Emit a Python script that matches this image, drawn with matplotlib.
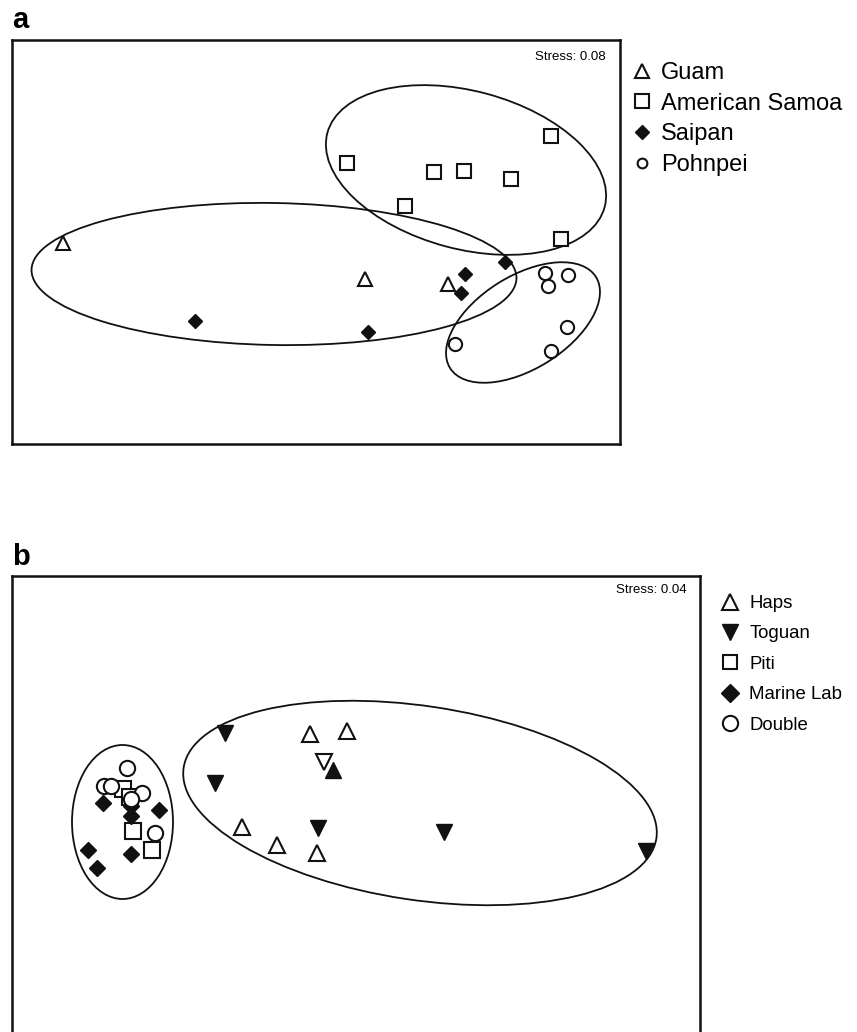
"""nMDS ordination plots of reef sites (panel a: islands, panel b: Guam sites)."""

import matplotlib
matplotlib.use("Agg")
import matplotlib.pyplot as plt
from matplotlib.lines import Line2D
from matplotlib.patches import Ellipse

plt.rcParams["font.family"] = ["Liberation Sans", "DejaVu Sans"]

# ---- panel a: islands ----
guam_x = [-1.265, 0.245, 0.66]
guam_y = [0.0, -0.18, -0.205]
samoa_x = [0.155, 1.175, 0.59, 0.74, 0.975, 0.445, 1.225]
samoa_y = [0.40, 0.535, 0.355, 0.36, 0.32, 0.185, 0.02]
saipan_x = [-0.605, 0.26, 0.745, 0.725, 0.945]
saipan_y = [-0.39, -0.445, -0.155, -0.25, -0.095]
pohnpei_x = [1.145, 1.26, 1.16, 1.255, 1.175, 0.695]
pohnpei_y = [-0.15, -0.16, -0.215, -0.42, -0.54, -0.505]
# cluster ellipses: (cx, cy, width, height, angle)
ellipses_a = [
    (-0.21, -0.155, 2.425, 0.71, -1.0),
    (0.75, 0.365, 1.435, 0.79, -15.0),
    (1.035, -0.3975, 0.86, 0.465, 32.0),
]
stress_a = "Stress: 0.08"

# ---- panel b: Guam sites ----
haps_x = [-0.23, -0.045, -0.57, -0.395, -0.195]
haps_y = [0.345, 0.36, -0.12, -0.21, -0.25]
toguan_x = [-0.655, -0.705, -0.19, 0.44, 1.45]
toguan_y = [0.35, 0.10, -0.125, -0.145, -0.24]
toguan_open_x = [-0.16]
toguan_open_y = [0.205]
haps_filled_x = [-0.115]
haps_filled_y = [0.165]
piti_x = [-1.165, -1.115, -1.02, -1.13]
piti_y = [0.07, -0.14, -0.235, 0.03]
marine_x = [-1.265, -0.985, -1.125, -1.125, -1.34, -1.295, -1.125]
marine_y = [0.0, -0.035, -0.015, -0.065, -0.235, -0.325, -0.255]
double_x = [-1.145, -1.26, -1.225, -1.07, -1.125, -1.005]
double_y = [0.175, 0.085, 0.085, 0.05, 0.02, -0.15]
ellipses_b = [
    (-1.1675, -0.095, 0.505, 0.77, 0.0),
    (0.32, 0.0, 2.39, 0.97, -8.5),
]
stress_b = "Stress: 0.04"

W, H = 857, 1032
fig = plt.figure(figsize=(W / 100, H / 100), dpi=100)


def px_axes(left, top, right, bottom):
    return fig.add_axes([left / W, 1 - bottom / H, (right - left) / W, (bottom - top) / H])


def style_box(ax):
    ax.set_xticks([])
    ax.set_yticks([])
    for sp in ax.spines.values():
        sp.set_linewidth(1.8)
        sp.set_color("#111111")


def draw_ellipses(ax, specs):
    for cx, cy, w, h, ang in specs:
        ax.add_patch(Ellipse((cx, cy), w, h, angle=ang, fill=False,
                             lw=1.3, ec="#111111", zorder=1))


open_kw = dict(ls="none", mfc="white", mec="#111111", mew=1.5, zorder=3)
fill_kw = dict(ls="none", mfc="#111111", mec="#111111", mew=1.0, zorder=3)

# panel a
ax1 = px_axes(12, 40, 620, 444)
style_box(ax1)
ax1.set_xlim(-1.52, 1.52)
ax1.set_ylim(-1.005, 1.015)
draw_ellipses(ax1, ellipses_a)
ax1.plot(guam_x, guam_y, marker="^", ms=10, **open_kw)
ax1.plot(samoa_x, samoa_y, marker="s", ms=9.5, **open_kw)
ax1.plot(saipan_x, saipan_y, marker="D", ms=7.5, **fill_kw)
ax1.plot(pohnpei_x, pohnpei_y, marker="o", ms=9.5, **open_kw)
ax1.text(0.977, 0.958, stress_a, transform=ax1.transAxes, ha="right", va="center", fontsize=9.5)
fig.text(12 / W, 1 - 28 / H, "a", fontsize=21, fontweight="bold", ha="left", va="baseline")

handles_a = [
    Line2D([], [], marker="^", ms=10, **open_kw),
    Line2D([], [], marker="s", ms=9.5, **open_kw),
    Line2D([], [], marker="D", ms=7, **fill_kw),
    Line2D([], [], marker="o", ms=7, **open_kw),
]
fig.legend(handles_a, ["Guam", "American Samoa", "Saipan", "Pohnpei"],
           loc="upper left", bbox_to_anchor=(630 / W, 1 - 62 / H),
           frameon=False, fontsize=17, handlelength=1.0, handletextpad=0.3,
           labelspacing=0.37, borderpad=0, borderaxespad=0)

# panel b
ax2 = px_axes(12, 576, 700, 1040)
style_box(ax2)
ax2.set_xlim(-1.72, 1.72)
ax2.set_ylim(-1.185, 1.135)
draw_ellipses(ax2, ellipses_b)
ax2.plot(haps_x, haps_y, marker="^", ms=11, **open_kw)
ax2.plot(toguan_x, toguan_y, marker="v", ms=11, **fill_kw)
ax2.plot(toguan_open_x, toguan_open_y, marker="v", ms=11, **open_kw)
ax2.plot(haps_filled_x, haps_filled_y, marker="^", ms=11, **fill_kw)
ax2.plot(piti_x, piti_y, marker="s", ms=11, **open_kw)
ax2.plot(marine_x, marine_y, marker="D", ms=8.5, **fill_kw)
ax2.plot(double_x, double_y, marker="o", ms=11, **open_kw)
ax2.text(0.98, 0.969, stress_b, transform=ax2.transAxes, ha="right", va="center", fontsize=9.5)
fig.text(12 / W, 1 - 565 / H, "b", fontsize=21, fontweight="bold", ha="left", va="baseline")

handles_b = [
    Line2D([], [], marker="^", ms=11, **open_kw),
    Line2D([], [], marker="v", ms=11, **fill_kw),
    Line2D([], [], marker="s", ms=10.5, **open_kw),
    Line2D([], [], marker="D", ms=9, **fill_kw),
    Line2D([], [], marker="o", ms=11, **open_kw),
]
fig.legend(handles_b, ["Haps", "Toguan", "Piti", "Marine Lab", "Double"],
           loc="upper left", bbox_to_anchor=(719 / W, 1 - 595 / H),
           frameon=False, fontsize=13.4, handlelength=1.2, handletextpad=0.42,
           labelspacing=0.72, borderpad=0, borderaxespad=0)

fig.savefig("out.png", dpi=100)
